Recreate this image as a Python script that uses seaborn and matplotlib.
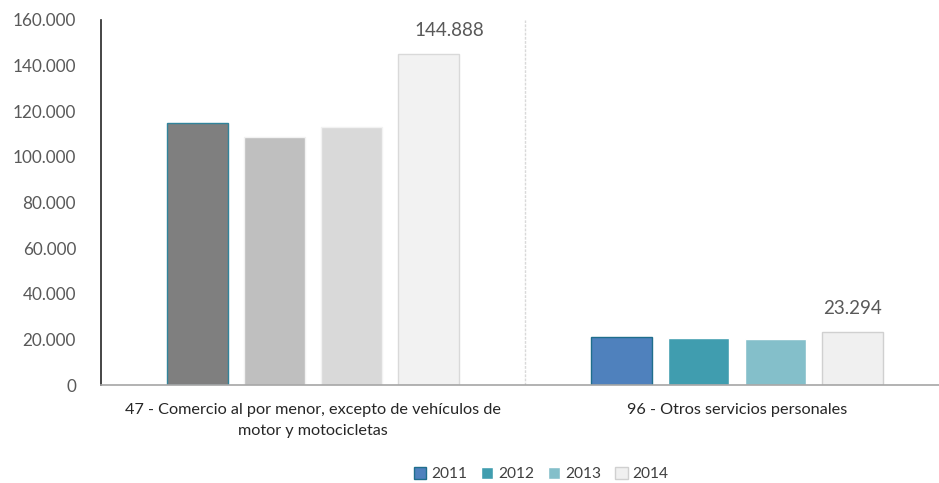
import matplotlib
matplotlib.use("Agg")
import matplotlib.pyplot as plt
import seaborn as sns
import pandas as pd
from matplotlib.patches import Patch
from matplotlib.ticker import FuncFormatter

categories = ["47 - Comercio al por menor, excepto de vehículos de\nmotor y motocicletas",
              "96 - Otros servicios personales"]
years = ["2011", "2012", "2013", "2014"]
values_cat1 = [115000, 108500, 113000, 144888]
values_cat2 = [21200, 20700, 20200, 23294]

legend_colors = ["#4F81BD", "#409DAF", "#84BFCA", "#F0F0F0"]
legend_edges = ["#1F6E8C", "#FFFFFF", "#FFFFFF", "#D0D0D0"]
gray_colors = ["#7F7F7F", "#BFBFBF", "#D9D9D9", "#F2F2F2"]
gray_edges = ["#31849B", "#F2F2F2", "#F2F2F2", "#D9D9D9"]

rows = []
for y, v in zip(years, values_cat1):
    rows.append({"cat": categories[0], "year": y, "value": v})
for y, v in zip(years, values_cat2):
    rows.append({"cat": categories[1], "year": y, "value": v})
df = pd.DataFrame(rows)

sns.set_style("white")
plt.rcParams["font.family"] = ["Lato", "DejaVu Sans"]

fig = plt.figure(figsize=(9.39, 4.83), dpi=100)
ax = fig.add_axes([101/939, 1 - 385/483, (939-101)/939, (385-20)/483])

sns.barplot(data=df, x="cat", y="value", hue="year", hue_order=years,
            palette=legend_colors, width=0.727, gap=0.21, ax=ax,
            legend=False, linewidth=1.0)

fmt = lambda v: f"{v:,.0f}".replace(",", ".")
label_dx = [15, 0]
for i, cont in enumerate(ax.containers):
    bars = list(cont)
    bars[0].set_facecolor(gray_colors[i])
    bars[0].set_edgecolor(gray_edges[i])
    bars[1].set_facecolor(legend_colors[i])
    bars[1].set_edgecolor(legend_edges[i])
    if years[i] == "2014":
        for b, dx in zip(bars, label_dx):
            ax.annotate(fmt(b.get_height()),
                        (b.get_x() + b.get_width() / 2, b.get_height()),
                        xytext=(dx, 11), textcoords="offset points",
                        ha="center", va="bottom", color="#595959", fontsize=13.5)

ax.set_ylim(0, 160000)
ax.set_xlim(-0.5, 1.476)
ax.yaxis.set_major_formatter(FuncFormatter(lambda v, p: fmt(v)))
ax.set_yticks(range(0, 160001, 20000))
ax.tick_params(axis="y", labelsize=12.3, length=0, pad=18)
ax.tick_params(axis="x", labelsize=11.7, length=0, pad=13)
for t in ax.get_yticklabels():
    t.set_color("#595959")
for t in ax.get_xticklabels():
    t.set_color("#262626")
    t.set_linespacing(1.6)
ax.set_xlabel("")
ax.set_ylabel("")

ax.axvline(0.5, ymin=0, ymax=1, color="#D9D9D9", linestyle=(0, (2, 1)), linewidth=1)

for s in ["top", "right"]:
    ax.spines[s].set_visible(False)
ax.spines["left"].set_color("#262626")
ax.spines["left"].set_linewidth(1.2)
ax.spines["bottom"].set_color("#A6A6A6")
ax.spines["bottom"].set_linewidth(1.2)

handles = [Patch(facecolor=c, edgecolor=e, label=y)
           for c, e, y in zip(legend_colors, legend_edges, years)]
leg = fig.legend(handles=handles, loc="center", bbox_to_anchor=(541/939, 1 - 474/483),
                 ncol=4, frameon=False, fontsize=11.2, handlelength=0.8, handleheight=0.8,
                 handletextpad=0.3, columnspacing=0.9)
for t in leg.get_texts():
    t.set_color("#404040")

fig.savefig("out.png", dpi=100)
